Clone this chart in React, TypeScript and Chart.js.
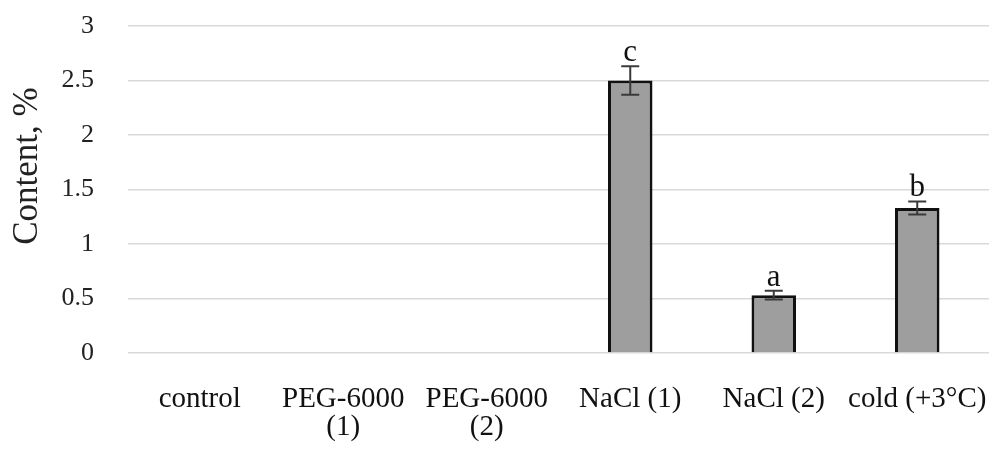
import React, { useEffect, useRef } from "react";
import { Chart, registerables } from "chart.js";

Chart.register(...registerables);

const categories: (string | string[])[] = [
  "control",
  ["PEG-6000", "(1)"],
  ["PEG-6000", "(2)"],
  "NaCl (1)",
  "NaCl (2)",
  "cold (+3°C)",
];
const contentValues = [0, 0, 0, 2.5, 0.53, 1.33];
const errorValues = [0, 0, 0, 0.13, 0.04, 0.06];
const letterLabels = ["", "", "", "c", "a", "b"];
const yTicks = [0, 0.5, 1, 1.5, 2, 2.5, 3];
const yTitle = "Content, %";

const FONT = "'Liberation Serif', 'Times New Roman', serif";

const errorAndLetters = {
  id: "errorAndLetters",
  afterDatasetsDraw(chart: any) {
    const ctx = chart.ctx;
    const meta = chart.getDatasetMeta(0);
    const y = chart.scales.y;
    ctx.save();
    meta.data.forEach((bar: any, i: number) => {
      const v = contentValues[i];
      const e = errorValues[i];
      if (!v) return;
      const x = bar.x;
      const yTop = y.getPixelForValue(v + e);
      const yBot = y.getPixelForValue(v - e);
      ctx.strokeStyle = "#3a3a3a";
      ctx.lineWidth = 2;
      ctx.beginPath();
      ctx.moveTo(x, yTop);
      ctx.lineTo(x, yBot);
      ctx.moveTo(x - 9, yTop);
      ctx.lineTo(x + 9, yTop);
      ctx.moveTo(x - 9, yBot);
      ctx.lineTo(x + 9, yBot);
      ctx.stroke();
      if (letterLabels[i]) {
        ctx.fillStyle = "#111";
        ctx.font = `31px ${FONT}`;
        ctx.textAlign = "center";
        ctx.textBaseline = "alphabetic";
        ctx.fillText(letterLabels[i], x, yTop - 5);
      }
    });
    // y-axis title
    ctx.translate(28, 166);
    ctx.rotate(-Math.PI / 2);
    ctx.fillStyle = "#222";
    ctx.font = `35px ${FONT}`;
    ctx.textAlign = "center";
    ctx.textBaseline = "middle";
    ctx.fillText(yTitle, 0, 0);
    ctx.restore();
  },
};

export default function App() {
  const ref = useRef<HTMLCanvasElement>(null);
  useEffect(() => {
    if (!ref.current) return;
    const chart = new Chart(ref.current, {
      type: "bar",
      data: {
        labels: categories,
        datasets: [
          {
            data: contentValues,
            backgroundColor: "#9e9e9e",
            borderColor: "#111",
            borderWidth: 3,
            borderSkipped: "start",
            categoryPercentage: 1,
            barPercentage: 0.31,
          },
        ],
      },
      options: {
        animation: false,
        responsive: true,
        maintainAspectRatio: false,
        layout: { padding: { top: 26, right: 6, left: 0, bottom: 0 } },
        plugins: { legend: { display: false }, tooltip: { enabled: false } },
        scales: {
          x: {
            grid: { display: false, drawTicks: false },
            border: { display: false },
            ticks: {
              color: "#111",
              font: { family: FONT, size: 29, lineHeight: "28px" },
              padding: 32,
              maxRotation: 0,
              autoSkip: false,
            },
            afterFit(scale: any) {
              scale.height = 99;
              scale.paddingLeft = 0;
              scale.paddingRight = 0;
            },
          },
          y: {
            min: 0,
            max: 3,
            afterBuildTicks(scale: any) {
              scale.ticks = yTicks.map((v) => ({ value: v }));
            },
            grid: { color: "#d9d9d9", lineWidth: 1.5, drawTicks: false },
            border: { display: false },
            ticks: {
              color: "#222",
              font: { family: FONT, size: 26 },
              padding: 34,
              callback: (v: any) => String(v),
            },
            afterFit(scale: any) {
              scale.width = 128;
              scale.paddingTop = 0;
              scale.paddingBottom = 0;
            },
          },
        },
      },
      plugins: [errorAndLetters],
    });
    return () => chart.destroy();
  }, []);
  return (
    <div style={{ position: "fixed", left: 0, top: 0, width: 995, height: 452, background: "#fff" }}>
      <canvas ref={ref} />
    </div>
  );
}
